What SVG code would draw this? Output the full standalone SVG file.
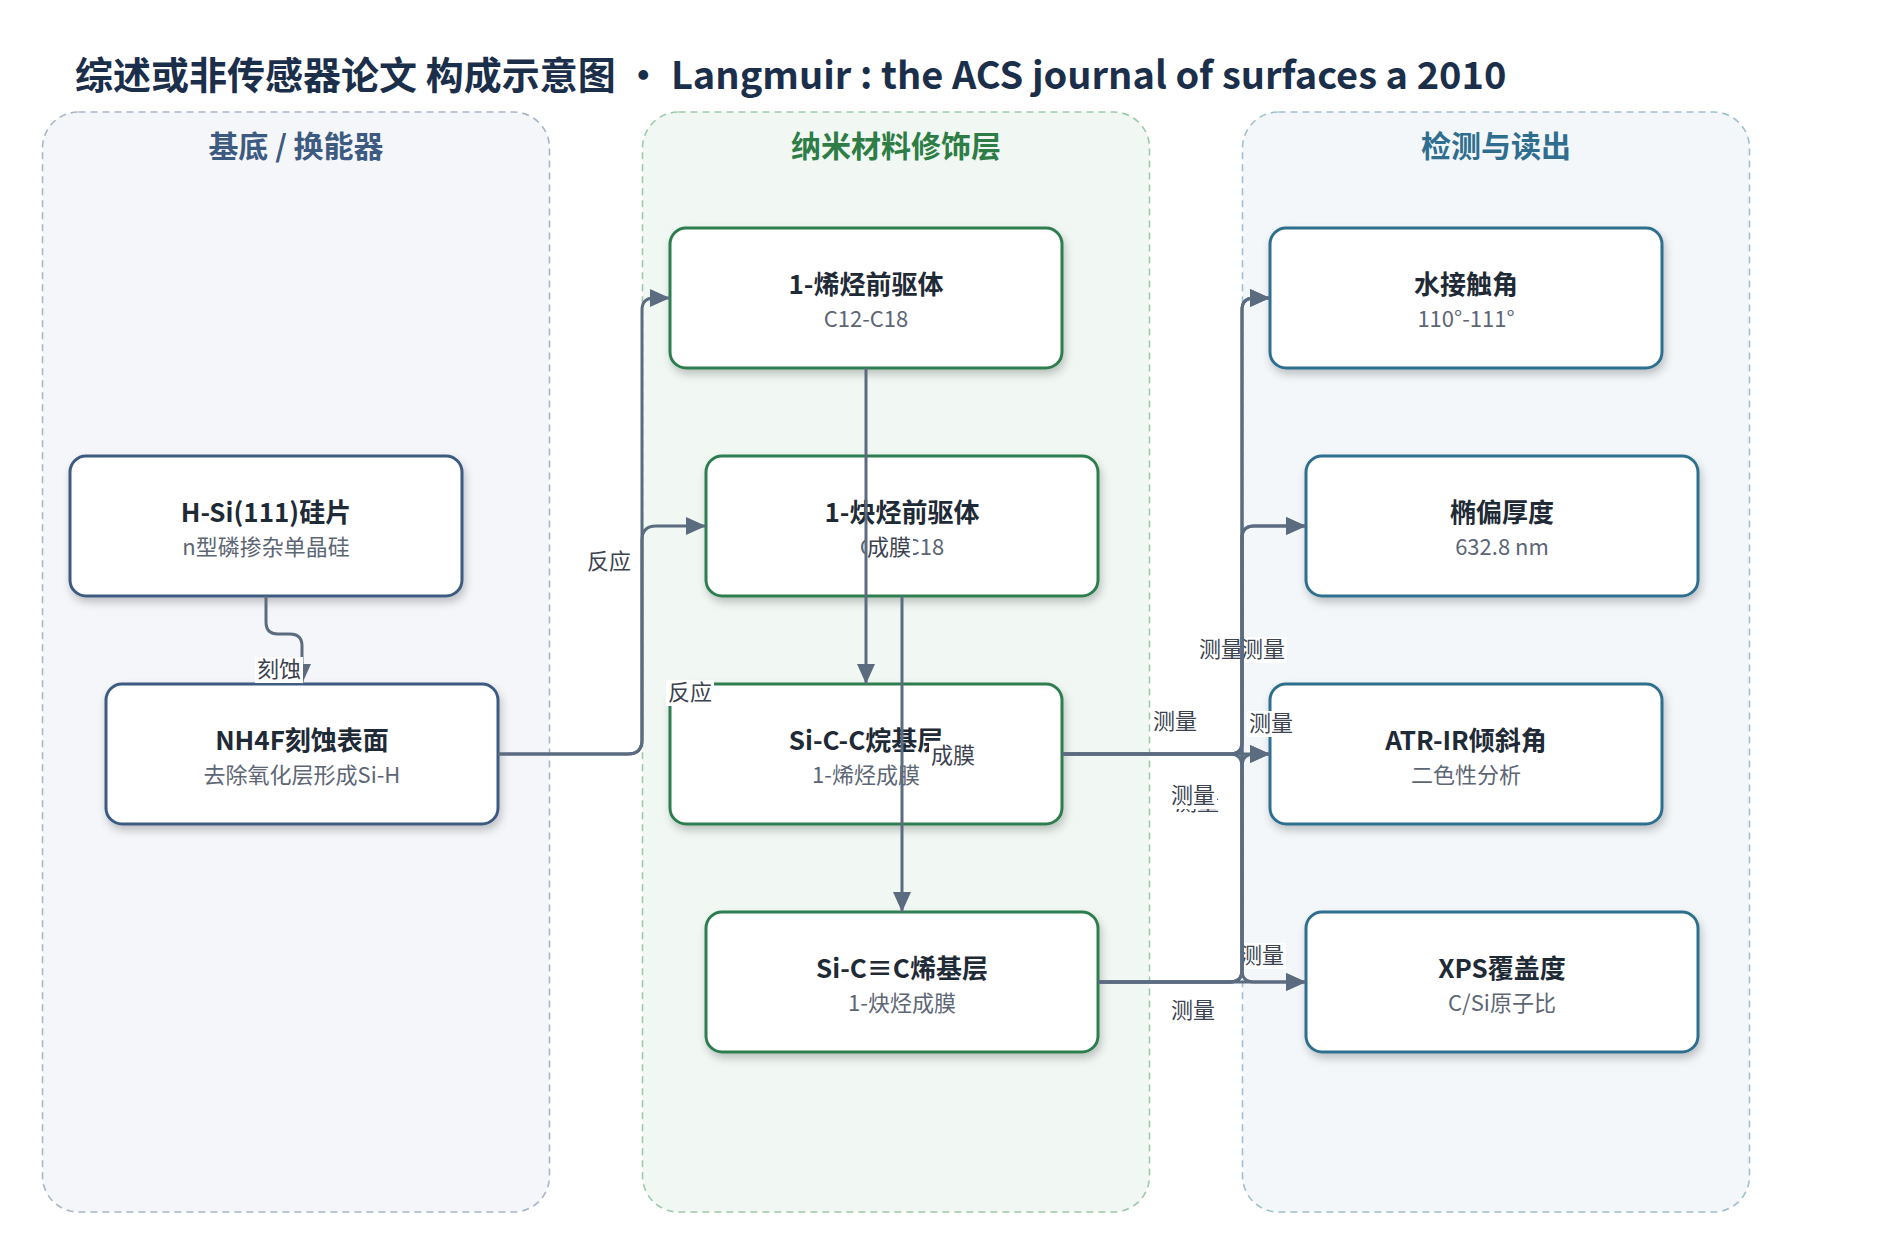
<svg xmlns="http://www.w3.org/2000/svg" width="1892" height="1235" viewBox="0 0 1892 1235">
<defs>
<style>
.title{font-family:"Noto Sans CJK SC","Noto Sans",sans-serif;font-weight:700;font-size:38px;fill:#1b2f4b}
.lane{stroke-width:1.6;stroke-dasharray:7 5}
.lt{font-family:"Noto Sans CJK SC","Noto Sans",sans-serif;font-weight:700;font-size:30px;text-anchor:middle}
.node{fill:#fff;stroke-width:3}
.nt{font-family:"Noto Sans CJK SC","Noto Sans",sans-serif;font-weight:700;font-size:26px;fill:#1f2a37;text-anchor:middle}
.ns{font-family:"Noto Sans CJK SC","Noto Sans",sans-serif;font-size:22px;fill:#5d6675;text-anchor:middle}
.e{fill:none;stroke:#5b6b80;stroke-width:3}
.el{font-family:"Noto Sans CJK SC","Noto Sans",sans-serif;font-size:22px;fill:#3b4250;text-anchor:middle}
.lb{fill:#fff}
</style>
<filter id="sh" x="-10%" y="-10%" width="130%" height="140%">
<feDropShadow dx="2" dy="5" stdDeviation="4" flood-color="#000" flood-opacity="0.22"/>
</filter>
<marker id="arr" viewBox="0 0 10 10" refX="10" refY="5" markerWidth="20" markerHeight="20" markerUnits="userSpaceOnUse" orient="auto">
<path d="M0,0.5 L10,5 L0,9.5 z" fill="#5b6b80"/>
</marker>
</defs>
<rect width="1892" height="1235" fill="#fff"/>
<text class="title" x="75" y="89">综述或非传感器论文 构成示意图 • Langmuir : the ACS journal of surfaces a 2010</text>

<g id="lane-substrate">
<rect class="lane" x="42.5" y="112" width="507" height="1100" rx="36" fill="#f4f6fa" stroke="#a9b5c8"/>
<text class="lt" x="296" y="157" fill="#3d5a80">基底 / 换能器</text>
</g>
<g id="lane-nano">
<rect class="lane" x="642.5" y="112" width="507" height="1100" rx="36" fill="#f1f8f3" stroke="#9dcaab"/>
<text class="lt" x="896" y="157" fill="#2e7d46">纳米材料修饰层</text>
</g>
<g id="lane-detect">
<rect class="lane" x="1242.5" y="112" width="507" height="1100" rx="36" fill="#f3f7f9" stroke="#9fc0cd"/>
<text class="lt" x="1496" y="157" fill="#2f6e8e">检测与读出</text>
</g>

<g id="n-hsi">
<rect class="node" x="70" y="456" width="392" height="140" rx="16" stroke="#3d5a80" filter="url(#sh)"/>
<text class="nt" x="266" y="522">H-Si(111)硅片</text>
<text class="ns" x="266" y="555">n型磷掺杂单晶硅</text>
</g>
<g id="n-nh4f">
<rect class="node" x="106" y="684" width="392" height="140" rx="16" stroke="#3d5a80" filter="url(#sh)"/>
<text class="nt" x="302" y="750">NH4F刻蚀表面</text>
<text class="ns" x="302" y="783">去除氧化层形成Si-H</text>
</g>
<g id="n-alkene">
<rect class="node" x="670" y="228" width="392" height="140" rx="16" stroke="#2e7d4f" filter="url(#sh)"/>
<text class="nt" x="866" y="294">1-烯烃前驱体</text>
<text class="ns" x="866" y="327">C12-C18</text>
</g>
<g id="n-alkyne">
<rect class="node" x="706" y="456" width="392" height="140" rx="16" stroke="#2e7d4f" filter="url(#sh)"/>
<text class="nt" x="902" y="522">1-炔烃前驱体</text>
<text class="ns" x="902" y="555">C12-C18</text>
</g>
<g id="n-sicc">
<rect class="node" x="670" y="684" width="392" height="140" rx="16" stroke="#2e7d4f" filter="url(#sh)"/>
<text class="nt" x="866" y="750">Si-C-C烷基层</text>
<text class="ns" x="866" y="783">1-烯烃成膜</text>
</g>
<g id="n-sicyc">
<rect class="node" x="706" y="912" width="392" height="140" rx="16" stroke="#2e7d4f" filter="url(#sh)"/>
<text class="nt" x="902" y="978">Si-C≡C烯基层</text>
<text class="ns" x="902" y="1011">1-炔烃成膜</text>
</g>
<g id="n-wca">
<rect class="node" x="1270" y="228" width="392" height="140" rx="16" stroke="#2f6e8e" filter="url(#sh)"/>
<text class="nt" x="1466" y="294">水接触角</text>
<text class="ns" x="1466" y="327">110°-111°</text>
</g>
<g id="n-ellip">
<rect class="node" x="1306" y="456" width="392" height="140" rx="16" stroke="#2f6e8e" filter="url(#sh)"/>
<text class="nt" x="1502" y="522">椭偏厚度</text>
<text class="ns" x="1502" y="555">632.8 nm</text>
</g>
<g id="n-atr">
<rect class="node" x="1270" y="684" width="392" height="140" rx="16" stroke="#2f6e8e" filter="url(#sh)"/>
<text class="nt" x="1466" y="750">ATR-IR倾斜角</text>
<text class="ns" x="1466" y="783">二色性分析</text>
</g>
<g id="n-xps">
<rect class="node" x="1306" y="912" width="392" height="140" rx="16" stroke="#2f6e8e" filter="url(#sh)"/>
<text class="nt" x="1502" y="978">XPS覆盖度</text>
<text class="ns" x="1502" y="1011">C/Si原子比</text>
</g>

<g id="connectors">
<path class="e" marker-end="url(#arr)" d="M266,596 V622 Q266,634 278,634 H290 Q302,634 302,646 V684"/>
<rect class="lb" x="255" y="657" width="48" height="26"/>
<text class="el" x="279" y="677">刻蚀</text>

<path class="e" marker-end="url(#arr)" d="M498,754 H628 Q642,754 642,740 V310 Q642,298 654,298 H670"/>
<path class="e" marker-end="url(#arr)" d="M498,754 H628 Q642,754 642,740 V540 Q642,526 656,526 H706"/>
<text class="el" x="609" y="569">反应</text>
<rect class="lb" x="666" y="680" width="48" height="26"/>
<text class="el" x="690" y="700">反应</text>

<rect class="lb" x="865" y="535" width="48" height="26"/>
<text class="el" x="889" y="555">成膜</text>
<path class="e" marker-end="url(#arr)" d="M866,368 V684"/>
<path class="e" marker-end="url(#arr)" d="M902,596 V912"/>
<rect class="lb" x="929" y="743" width="48" height="26"/>
<text class="el" x="953" y="763">成膜</text>

<text class="el" x="1197" y="810">测量</text>
<rect class="lb" x="1169" y="783" width="48" height="26"/>
<text class="el" x="1193" y="803">测量</text>
<text class="el" x="1175" y="729">测量</text>
<text class="el" x="1193" y="1018">测量</text>
<rect class="lb" x="1197" y="637" width="90" height="26"/>
<text class="el" x="1221" y="657">测量</text>
<text class="el" x="1263" y="657">测量</text>
<rect class="lb" x="1247" y="711" width="48" height="26"/>
<text class="el" x="1271" y="731">测量</text>
<rect class="lb" x="1238" y="943" width="48" height="26"/>
<text class="el" x="1262" y="963">测量</text>

<path class="e" marker-end="url(#arr)" d="M1062,754 H1230 Q1242,754 1242,742 V310 Q1242,298 1254,298 H1270"/>
<path class="e" marker-end="url(#arr)" d="M1062,754 H1230 Q1242,754 1242,742 V538 Q1242,526 1254,526 H1306"/>
<path class="e" marker-end="url(#arr)" d="M1062,754 H1270"/>
<path class="e" marker-end="url(#arr)" d="M1062,754 H1230 Q1242,754 1242,766 V970 Q1242,982 1254,982 H1306"/>
<path class="e" marker-end="url(#arr)" d="M1098,982 H1230 Q1242,982 1242,970 V310 Q1242,298 1254,298 H1270"/>
<path class="e" marker-end="url(#arr)" d="M1098,982 H1230 Q1242,982 1242,970 V538 Q1242,526 1254,526 H1306"/>
<path class="e" marker-end="url(#arr)" d="M1098,982 H1230 Q1242,982 1242,970 V766 Q1242,754 1254,754 H1270"/>
<path class="e" marker-end="url(#arr)" d="M1098,982 H1306"/>
</g>
</svg>
